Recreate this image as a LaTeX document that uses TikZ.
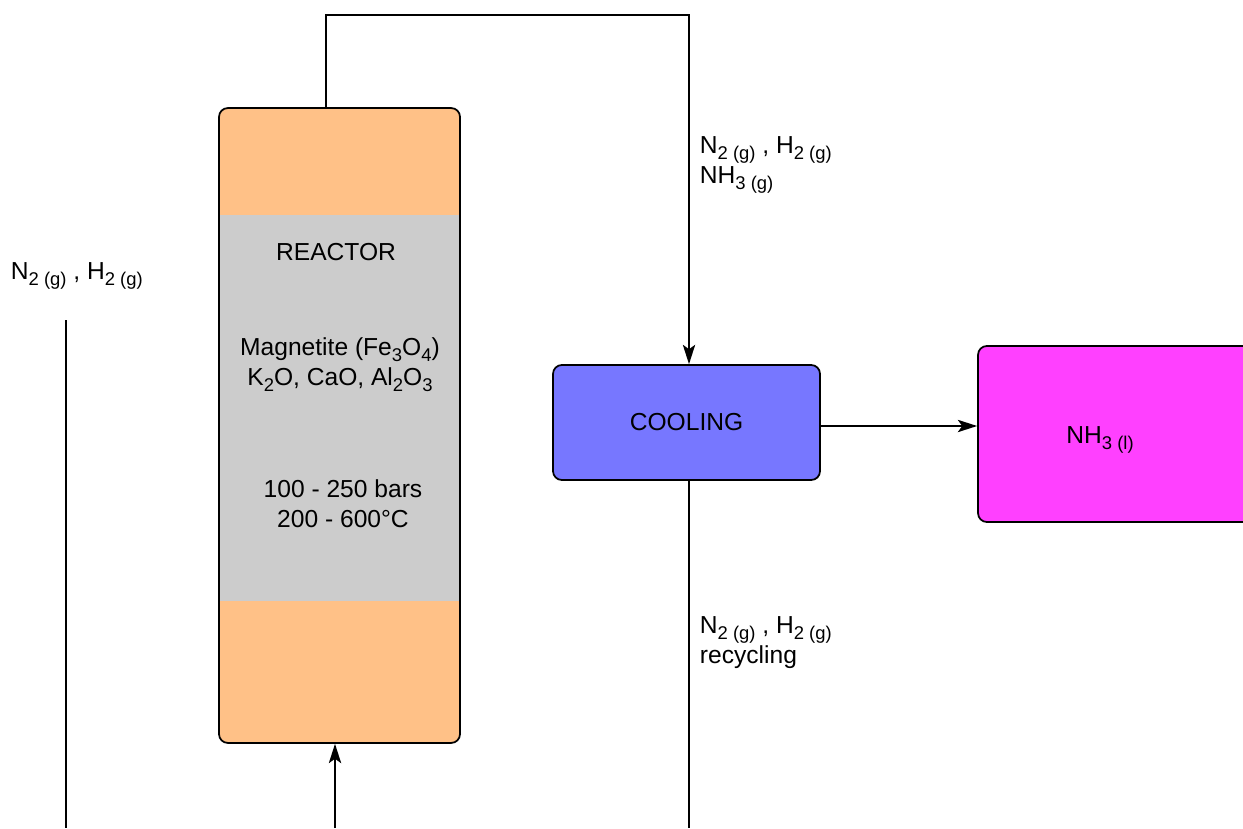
\documentclass[tikz,border=0pt]{standalone}
\usepackage{fontspec}
\setmainfont{Liberation Sans}
\usepackage{tikz}
\usetikzlibrary{arrows.meta, positioning, calc}
\definecolor{reactororange}{HTML}{FFC187}
\definecolor{catalystgray}{HTML}{CCCCCC}
\definecolor{coolingblue}{HTML}{7777FF}
\definecolor{productpink}{HTML}{FF40FF}
\newcommand{\sub}[1]{\raisebox{-0.45ex}{\fontsize{10.5}{11}\selectfont #1}}

\begin{document}
\begin{tikzpicture}[x=0.02cm, y=-0.02cm, line width=1pt,
    every node/.style={font=\fontsize{14}{17}\selectfont, inner sep=0pt},
    unitbox/.style={draw=black, rounded corners=5pt},
    flow/.style={-{Stealth[length=11pt, width=7pt, inset=2.5pt]}},
    streamlabel/.style={align=left, anchor=north west}]
  \useasboundingbox (0,0) rectangle (1243,828);

  % units
  \node[unitbox, fill=reactororange, minimum width=4.82cm, minimum height=12.7cm,
        path picture={\fill[catalystgray, sharp corners]
          ($(path picture bounding box.north west)+(0,107)$) rectangle
          ($(path picture bounding box.south east)+(0,-142)$);}]
    (reactor) at (339.5,425.5) {};
  \node[unitbox, fill=coolingblue, minimum width=5.34cm, minimum height=2.3cm]
    (cooling) at (686.5,422.5) {COOLING};
  \node[unitbox, fill=productpink, minimum width=5.64cm, minimum height=3.52cm]
    (product) at (1119,434) {};
  \node (productlabel) at (1100,440) {NH\sub{3 (l)}};

  % reactor texts
  \node (reactorname) at (336,252) {REACTOR};
  \node[align=center] (catalyst) at (340,365)
    {Magnetite (Fe\sub{3}O\sub{4})\\K\sub{2}O, CaO, Al\sub{2}O\sub{3}};
  \node[align=center] (conditions) at (343,504) {100 - 250 bars\\200 - 600°C};

  % stream ends
  \coordinate (topL) at (326,15);
  \coordinate (topR) at (689,15);
  \coordinate (feedin) at (335,828);
  \coordinate (leftT) at (66,320);
  \coordinate (leftB) at (66,828);
  \coordinate (recyB) at (689,828);
  \coordinate (prodlevel) at (0,426);

  % streams
  \draw[flow] (reactor.north -| topL) -- (topL) -- (topR) -- (cooling.north -| topR);
  \draw[flow] (cooling.east |- prodlevel) -- (product.west |- prodlevel);
  \draw[flow] (feedin) -- (reactor.south -| feedin);
  \draw (leftT) -- (leftB);
  \draw (cooling.south -| recyB) -- (recyB);

  % stream labels
  \node[anchor=west] (feedlabel) at (10,276) {N\sub{2 (g)} , H\sub{2 (g)}};
  \node[streamlabel] (outlabel) at (699,136) {N\sub{2 (g)} , H\sub{2 (g)}\\NH\sub{3 (g)}};
  \node[streamlabel] (recylabel) at (699,616) {N\sub{2 (g)} , H\sub{2 (g)}\\recycling};
\end{tikzpicture}
\end{document}
